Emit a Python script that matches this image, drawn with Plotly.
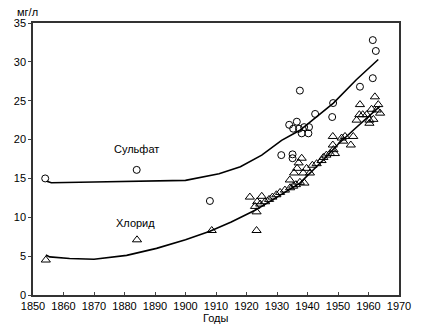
import plotly.graph_objects as go

# Sulfate observations
sulf_years = [1854, 1884, 1908, 1931.4, 1934, 1935.1, 1935.1, 1935.3, 1936.5, 1937.2, 1937.5,
              1938.9, 1940.5, 1938.1, 1940.3, 1942.5, 1948.4, 1948.1, 1957.2, 1961.4, 1961.4, 1962.4]
sulf_values = [15.0, 16.1, 12.1, 18.0, 21.9, 18.1, 17.6, 21.4, 22.3, 21.4, 26.3,
               21.6, 21.6, 20.8, 20.8, 23.3, 24.7, 22.9, 26.8, 32.8, 27.9, 31.4]

# Chloride observations
chl_years = [1854.2, 1884.1, 1908.6, 1921.1, 1922.8, 1923.3, 1923.3, 1923.5, 1924.5, 1925,
             1926.1, 1927.4, 1928.5, 1929.8, 1931, 1932.6, 1934.3, 1935.3, 1936.2, 1937.5,
             1939, 1934.2, 1935.6, 1936.6, 1937.1, 1938.1, 1938.6, 1939.7, 1940.8, 1941.6,
             1943, 1944.6, 1945.2, 1946.2, 1947.4, 1949, 1948.5, 1948.3, 1948.3, 1951.2,
             1951.7, 1952.3, 1954.2, 1955, 1956.1, 1957, 1957.2, 1958.1, 1959.4, 1960.3,
             1960.3, 1961, 1961.6, 1962.1, 1962.7, 1963.2, 1963.8]
chl_values = [4.5, 7.1, 8.3, 12.6, 11.4, 10.7, 8.3, 12.0, 11.7, 12.7,
              12.0, 12.3, 12.6, 12.9, 13.2, 13.5, 13.8, 14.0, 14.2, 14.5,
              14.4, 14.8, 15.7, 16.3, 17.0, 17.6, 15.7, 16.3, 15.7, 16.7,
              16.9, 17.3, 17.7, 18.0, 18.2, 18.2, 18.7, 19.3, 20.4, 20.2,
              19.8, 20.4, 19.3, 20.4, 22.5, 23.2, 24.5, 23.2, 23.2, 22.5,
              22.1, 23.9, 22.6, 25.5, 23.8, 24.5, 23.4]

# Trend curves
sulf_curve_years = [1854.5, 1856, 1870, 1885, 1900, 1911, 1918, 1925, 1931.5, 1937.5,
                    1944, 1948.5, 1956, 1963.2]
sulf_curve_values = [14.65, 14.45, 14.55, 14.65, 14.75, 15.6, 16.5, 18.0, 19.9, 21.2,
                     23.3, 24.7, 27.7, 30.3]
chl_curve_years = [1854.2, 1855.5, 1862, 1870, 1880.7, 1890.5, 1900, 1908, 1915, 1922.8,
                   1930, 1937.5, 1945, 1950, 1955, 1960, 1963.8]
chl_curve_values = [5.15, 4.9, 4.7, 4.6, 5.1, 6.0, 7.1, 8.2, 9.4, 10.9,
                    12.6, 14.4, 17.3, 19.4, 21.2, 23.0, 24.3]

x_ticks = list(range(1850, 1971, 10))
y_ticks = list(range(0, 36, 5))

FONT = "Liberation Sans, Arial, sans-serif"

fig = go.Figure()
fig.add_trace(go.Scatter(x=sulf_curve_years, y=sulf_curve_values, mode="lines",
                         line=dict(color="black", width=1.6), showlegend=False))
fig.add_trace(go.Scatter(x=chl_curve_years, y=chl_curve_values, mode="lines",
                         line=dict(color="black", width=1.6), showlegend=False))
fig.add_trace(go.Scatter(x=sulf_years, y=sulf_values, mode="markers",
                         marker=dict(symbol="circle-open", size=7, color="black",
                                     line=dict(width=1, color="black")), showlegend=False))
fig.add_trace(go.Scatter(x=chl_years, y=chl_values, mode="markers",
                         marker=dict(symbol="triangle-up-open", size=8, color="black",
                                     line=dict(width=1, color="black")), showlegend=False))

fig.add_annotation(x=1884, y=18.8, text="Сульфат", showarrow=False,
                   font=dict(size=11, color="black", family=FONT))
fig.add_annotation(x=1883.5, y=9.3, text="Хлорид", showarrow=False,
                   font=dict(size=11, color="black", family=FONT))
fig.add_annotation(xref="paper", yref="paper", x=-0.05, y=1.0, yshift=11,
                   xanchor="left", yanchor="middle",
                   text="мг/л", showarrow=False, font=dict(size=11, color="black", family=FONT))
fig.add_annotation(xref="paper", yref="paper", x=0.5, y=0.0, yshift=-23,
                   xanchor="center", yanchor="middle",
                   text="Годы", showarrow=False, font=dict(size=11, color="black", family=FONT))

fig.update_layout(
    width=424, height=327,
    margin=dict(l=33, r=25, t=23, b=32, autoexpand=False),
    plot_bgcolor="white", paper_bgcolor="white",
    font=dict(family=FONT, size=11, color="black"),
)
fig.update_xaxes(range=[1850, 1970], tickvals=x_ticks, ticks="inside", ticklen=3,
                 showgrid=False, zeroline=False, showline=True, linecolor="#333", linewidth=1.5,
                 mirror=True, automargin=False, tickfont=dict(size=11))
fig.update_yaxes(range=[0, 35], tickvals=y_ticks, ticks="outside", ticklen=3,
                 showgrid=False, zeroline=False, showline=True, linecolor="#333", linewidth=1.5,
                 mirror=True, automargin=False, tickfont=dict(size=11))

fig.write_html("out.html")
